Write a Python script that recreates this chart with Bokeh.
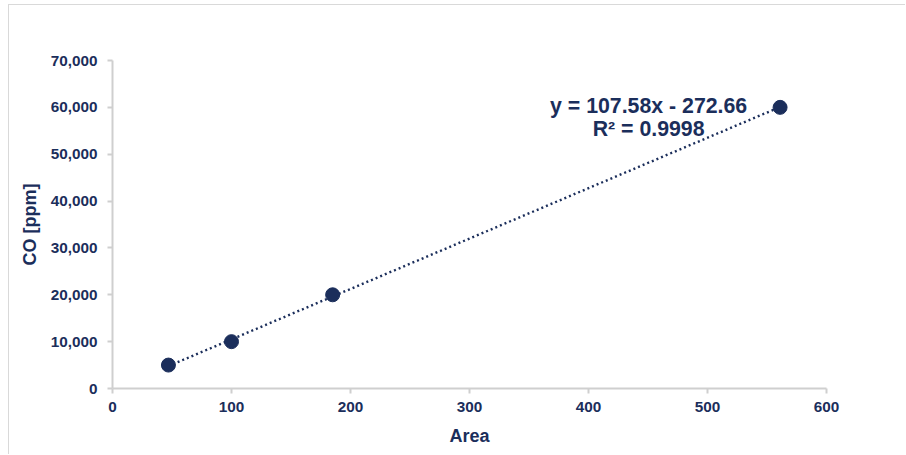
from bokeh.plotting import figure
from bokeh.models import Range1d, FixedTicker, NumeralTickFormatter
from bokeh.core.properties import value
from bokeh.embed import file_html
from bokeh.resources import INLINE

# Calibration points
area = [47, 100, 185, 561]
co_ppm = [5000, 10000, 20000, 60000]

# Linear fit reported on the chart
slope = 107.58
intercept = -272.66
r_squared = 0.9998

x_ticks = [0, 100, 200, 300, 400, 500, 600]
y_ticks = [0, 10000, 20000, 30000, 40000, 50000, 60000, 70000]

navy = "#1b2e5b"
axis_gray = "#cfcfcf"
font = "Liberation Sans"

p = figure(
    width=897, height=450,
    output_backend="svg", toolbar_location=None,
    x_range=Range1d(0, 600), y_range=Range1d(0, 70000),
    min_border_left=103, min_border_right=80,
    min_border_top=55, min_border_bottom=67,
    margin=(4, 0, 0, 8),
    styles={"border-top": "1px solid #d9d9d9", "border-left": "1px solid #d9d9d9"},
)
p.outline_line_color = None
p.grid.visible = False
p.background_fill_color = "white"
p.border_fill_color = "white"

# Trendline from the fitted equation
x_fit = [min(area), max(area)]
y_fit = [slope * x + intercept for x in x_fit]
p.line(x_fit, y_fit, line_color=navy, line_width=2.4, line_dash="2 3")

p.scatter(area, co_ppm, size=14, fill_color=navy, line_color=navy)

# Equation label
p.text(x=[450.5], y=[(388 - 105) / 328 * 70000], text=[f"y = {slope}x - {abs(intercept)}"],
       text_align="center", text_baseline="alphabetic", text_color=navy,
       text_font=value(font), text_font_style="bold", text_font_size="21.3px")
p.text(x=[450.5], y=[(388 - 128) / 328 * 70000], text=[f"R\u00b2 = {r_squared}"],
       text_align="center", text_baseline="alphabetic", text_color=navy,
       text_font=value(font), text_font_style="bold", text_font_size="21.3px")

for ax in (p.xaxis[0], p.yaxis[0]):
    ax.axis_line_color = axis_gray
    ax.axis_line_width = 2
    ax.major_tick_line_color = axis_gray
    ax.major_tick_line_width = 2
    ax.major_tick_out = 5
    ax.major_tick_in = 0
    ax.minor_tick_line_color = None
    ax.major_label_text_color = navy
    ax.major_label_text_font = font
    ax.major_label_text_font_style = "bold"
    ax.major_label_text_font_size = "15.3px"
    ax.axis_label_text_color = navy
    ax.axis_label_text_font = font
    ax.axis_label_text_font_style = "bold"
    ax.axis_label_text_font_size = "18px"

p.xaxis.ticker = FixedTicker(ticks=x_ticks)
p.yaxis.ticker = FixedTicker(ticks=y_ticks)
p.yaxis.formatter = NumeralTickFormatter(format="0,0")
p.xaxis.axis_label = "Area"
p.yaxis.axis_label = "CO [ppm]"
p.xaxis.major_label_standoff = 8
p.yaxis.major_label_standoff = 10
p.xaxis.axis_label_standoff = 11
p.yaxis.axis_label_standoff = 8

open("out.html", "w").write(file_html(p, INLINE))
